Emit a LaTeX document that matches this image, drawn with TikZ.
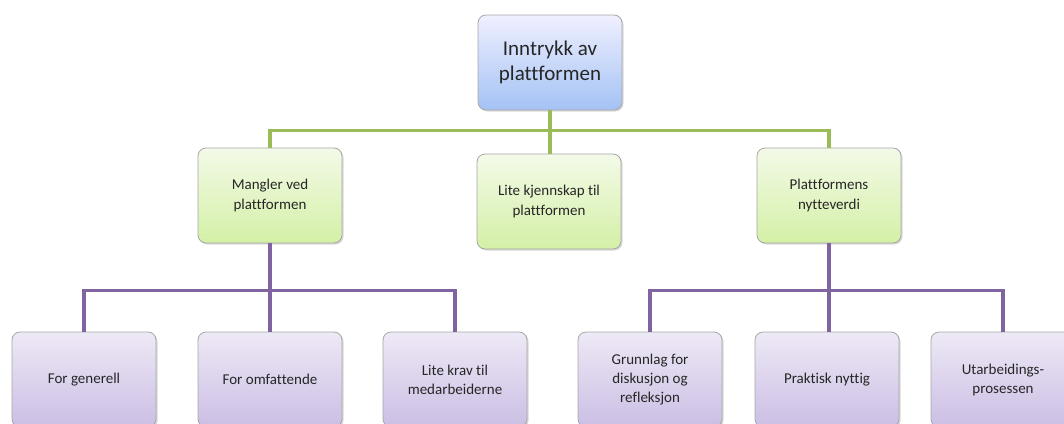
\documentclass[tikz,border=0pt]{standalone}
\usepackage{fontspec}
\setmainfont{Carlito}[Ligatures=CommonOff]
\usetikzlibrary{shadows}

\definecolor{lineGreen}{HTML}{9BBB59}
\definecolor{linePurple}{HTML}{8064A2}
\definecolor{boxBorder}{HTML}{A6A6A6}

\tikzset{
    box/.style = {draw = boxBorder, line width = 0.8pt, rounded corners = 8pt,
        minimum width = 144pt, minimum height = 95pt, align = center,
        text = black!85,
        drop shadow = {shadow xshift = 1.5pt, shadow yshift = -1.5pt, opacity = 0.25, fill = black!60}},
    topbox/.style = {box, top color = blue!6!white, bottom color = {rgb,255:red,164;green,194;blue,244},
        font = \fontsize{21}{25}\selectfont},
    midbox/.style = {box, top color = {rgb,255:red,243;green,250;blue,232}, bottom color = {rgb,255:red,212;green,240;blue,166},
        font = \fontsize{15}{20}\selectfont},
    lowbox/.style = {box, top color = {rgb,255:red,238;green,233;blue,246}, bottom color = {rgb,255:red,203;green,190;blue,228},
        font = \fontsize{15}{19}\selectfont},
    greenline/.style = {draw = lineGreen, line width = 3.5pt},
    purpleline/.style = {draw = linePurple, line width = 3.5pt}
}

\begin{document}
\begin{tikzpicture}[x = 1pt, y = -1pt]
    \useasboundingbox (0,0) rectangle (1064,423);
    \clip (0,0) rectangle (1064,423);

    \node[topbox] (TOP) at (550,62.5) {Inntrykk av\\plattformen};

    \node[midbox] (MANGLER) at (270,195.5) {Mangler ved\\plattformen};
    \node[midbox] (KJENNSKAP) at (549,201.5) {Lite kjennskap til\\plattformen};
    \node[midbox] (NYTTE) at (829,195.5) {Plattformens\\nytteverdi};

    \node[lowbox] (GENERELL) at (84,379.5) {For generell};
    \node[lowbox] (OMFATTENDE) at (270,379.5) {For omfattende};
    \node[lowbox] (KRAV) at (455,379.5) {Lite krav til\\medarbeiderne};
    \node[lowbox] (GRUNNLAG) at (650,379.5) {Grunnlag for\\diskusjon og\\refleksjon};
    \node[lowbox] (PRAKTISK) at (827,379.5) {Praktisk nyttig};
    \node[lowbox] (UTARB) at (1003,379.5) {Utarbeidings-\\prosessen};

    % green level
    \draw[greenline] (TOP.south) -- ++(0,20) -| (MANGLER.north);
    \draw[greenline] (TOP.south) -- ++(0,20) -| (NYTTE.north);
    \draw[greenline] (TOP.south) -- (TOP.south |- KJENNSKAP.north);

    % purple level
    \draw[purpleline] (MANGLER.south) -- ++(0,47) -| (GENERELL.north);
    \draw[purpleline] (MANGLER.south) -- ++(0,47) -| (KRAV.north);
    \draw[purpleline] (MANGLER.south) -- (MANGLER.south |- OMFATTENDE.north);
    \draw[purpleline] (NYTTE.south) -- ++(0,47) -| (GRUNNLAG.north);
    \draw[purpleline] (NYTTE.south) -- ++(0,47) -| (UTARB.north);
    \draw[purpleline] (NYTTE.south) -- (NYTTE.south |- PRAKTISK.north);
\end{tikzpicture}
\end{document}
